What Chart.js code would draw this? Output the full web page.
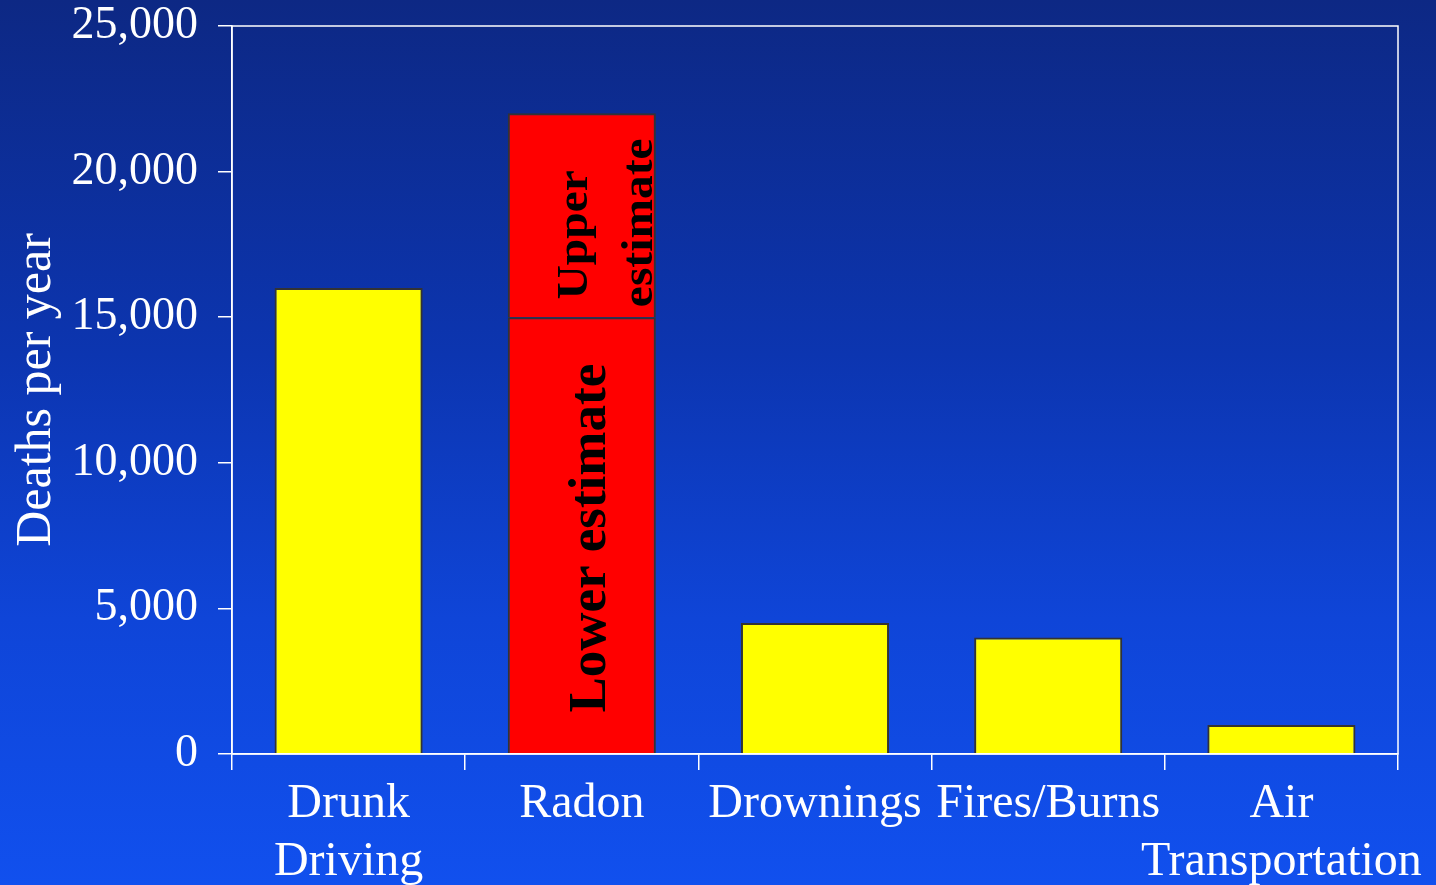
<!DOCTYPE html>
<html>
<head>
<meta charset="utf-8">
<script src="https://cdn.jsdelivr.net/npm/chart.js@4.4.1/dist/chart.umd.min.js"></script>
<style>
  html, body { margin: 0; padding: 0; width: 1436px; height: 885px; overflow: hidden; }
  body { background: linear-gradient(to bottom, #0d2884 0%, #0c35b0 40%, #0f45d8 70%, #1150ee 100%); }
  #wrap { position: relative; width: 1436px; height: 885px; }
</style>
</head>
<body>
<div id="wrap"><canvas id="c" width="1436" height="885"></canvas></div>
<script>
// ---- data ----
const categories = [["Drunk", "Driving"], "Radon", "Drownings", "Fires/Burns", ["Air", "Transportation"]];
const lowerValues = [16000, 15000, 4500, 4000, 1000];
const upperTotals = [null, 22000, null, null, null];
const yTicks = [0, 5000, 10000, 15000, 20000, 25000];
const yTitle = "Deaths per year";
const lowerLabel = "Lower estimate";
const upperLabel = ["Upper", "estimate"];

const extraValues = upperTotals.map((t, i) => t === null ? null : t - lowerValues[i]);
const lowerColors = upperTotals.map(t => t === null ? "#ffff00" : "#ff0000");

const serif = "'Liberation Serif', 'Times New Roman', serif";

const framePlugin = {
  id: "frame",
  afterDatasetsDraw(chart) {
    const { ctx, chartArea: a } = chart;
    ctx.save();
    ctx.strokeStyle = "#ffffff";
    ctx.lineWidth = 1.5;
    ctx.strokeRect(a.left, a.top, a.right - a.left, a.bottom - a.top);
    ctx.restore();
  }
};

const barTextPlugin = {
  id: "barText",
  afterDatasetsDraw(chart) {
    const ctx = chart.ctx;
    const idx = upperTotals.findIndex(t => t !== null);
    if (idx < 0) return;
    const low = chart.getDatasetMeta(0).data[idx];
    const up = chart.getDatasetMeta(1).data[idx];
    ctx.save();
    ctx.fillStyle = "#000000";
    ctx.textAlign = "center";
    ctx.textBaseline = "alphabetic";
    // lower label
    ctx.save();
    ctx.translate(low.x + 23.5, (low.y + low.base) / 2 + 3);
    ctx.rotate(-Math.PI / 2);
    ctx.font = "bold 53px " + serif;
    ctx.fillText(lowerLabel, 0, 0);
    ctx.restore();
    // upper label (two lines)
    const cy = (up.y + up.base) / 2;
    const lines = [{ dx: 5, dy: 19.5 }, { dx: 70.5, dy: 7.5 }];
    upperLabel.forEach((txt, i) => {
      ctx.save();
      ctx.translate(up.x + lines[i].dx, cy + lines[i].dy);
      ctx.rotate(-Math.PI / 2);
      ctx.scale(1.08, 1);
      ctx.font = "bold 44px " + serif;
      ctx.fillText(txt, 0, 0);
      ctx.restore();
    });
    ctx.restore();
  }
};

new Chart(document.getElementById("c"), {
  type: "bar",
  data: {
    labels: categories,
    datasets: [
      {
        data: lowerValues,
        backgroundColor: lowerColors,
        borderColor: "#333333",
        borderWidth: 2,
        barPercentage: 0.635,
        categoryPercentage: 1
      },
      {
        data: extraValues,
        backgroundColor: "#ff0000",
        borderColor: "#333333",
        borderWidth: 2,
        barPercentage: 0.635,
        categoryPercentage: 1
      }
    ]
  },
  options: {
    responsive: false,
    animation: false,
    events: [],
    layout: { padding: { top: 26, right: 38, left: 0, bottom: 0 } },
    plugins: { legend: { display: false }, tooltip: { enabled: false } },
    scales: {
      x: {
        stacked: true,
        afterFit(scale) { scale.height = 131; scale.paddingLeft = 0; scale.paddingRight = 0; },
        grid: { drawOnChartArea: false, drawTicks: true, tickLength: 16, tickColor: "#ffffff", lineWidth: 1.5, offset: true },
        border: { display: true, color: "#ffffff", width: 1.5 },
        ticks: {
          color: "#ffffff",
          font: { family: serif, size: 48, lineHeight: 1.2 },
          padding: 6,
          maxRotation: 0,
          autoSkip: false
        }
      },
      y: {
        stacked: true,
        min: 0,
        max: 25000,
        afterFit(scale) { scale.width = 232; scale.paddingTop = 0; scale.paddingBottom = 0; },
        afterBuildTicks(scale) { scale.ticks = yTicks.map(v => ({ value: v })); },
        grid: { drawOnChartArea: false, drawTicks: true, tickLength: 14, tickColor: "#ffffff", lineWidth: 1.5 },
        border: { display: true, color: "#ffffff", width: 1.5 },
        ticks: {
          color: "#ffffff",
          font: { family: serif, size: 46, lineHeight: 1 },
          padding: 20,
          callback: v => v.toLocaleString("en-US")
        },
        title: {
          display: true,
          text: yTitle,
          color: "#ffffff",
          font: { family: serif, size: 50, lineHeight: 1.2 },
          padding: { top: 7, bottom: 0 }
        }
      }
    }
  },
  plugins: [framePlugin, barTextPlugin]
});
</script>
</body>
</html>
